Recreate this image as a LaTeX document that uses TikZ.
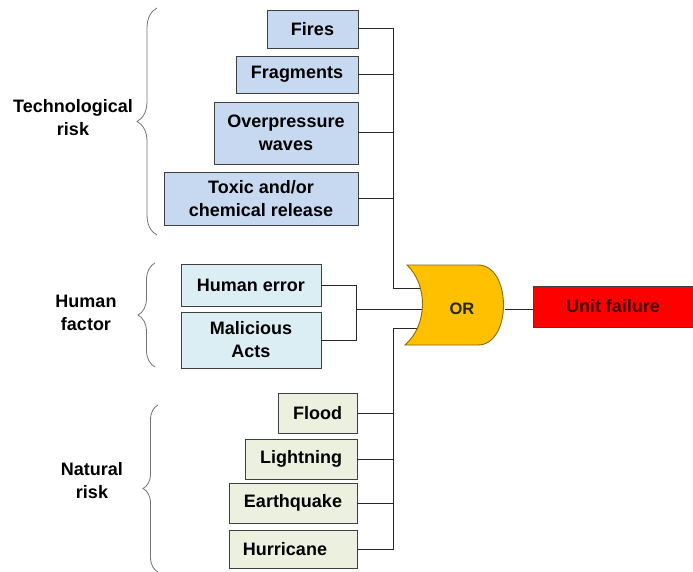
\documentclass[tikz,border=0pt]{standalone}
\usepackage{fontspec}
\setmainfont{Liberation Sans}
\usetikzlibrary{decorations.pathreplacing}
\definecolor{techblue}{HTML}{C6D9F1}
\definecolor{humblue}{HTML}{DBEEF4}
\definecolor{natgreen}{HTML}{EBF1DE}
\definecolor{gateor}{HTML}{FFC000}
\definecolor{gateedge}{HTML}{8C6A00}
\definecolor{boxedge}{HTML}{404040}
\definecolor{ufred}{HTML}{FF0000}
\definecolor{uftext}{HTML}{420000}
\begin{document}
\begin{tikzpicture}[x=1pt,y=-1pt,
  txt/.style={font=\fontsize{18}{23}\selectfont\bfseries, align=center},
  box/.style={txt, draw=boxedge, line width=0.8pt, inner sep=0pt},
  tech/.style={box, fill=techblue},
  hum/.style={box, fill=humblue},
  nat/.style={box, fill=natgreen},
  wire/.style={draw=black!85, line width=1pt},
  brc/.style={draw=black!55, line width=0.8pt, decorate, decoration={brace, amplitude=#1}},
  grp/.style={txt}
]
\useasboundingbox (0,0) rectangle (693,572);

% technological boxes
\node[tech, minimum width=91pt, minimum height=38pt] (fires) at (312.5,29) {Fires};
\node[tech, minimum width=122pt, minimum height=37pt] (frag) at (297,74.5) {Fragments};
\node[tech, minimum width=144pt, minimum height=62pt] (over) at (286,133) {Overpressure\\waves};
\node[tech, minimum width=194pt, minimum height=53pt] (toxic) at (261,198.5) {Toxic and/or\\chemical release};

% human boxes
\node[hum, minimum width=140pt, minimum height=42pt] (herr) at (251,285) {Human error};
\node[hum, minimum width=140pt, minimum height=56pt] (mal) at (251,340) {Malicious\\Acts};

% natural boxes
\node[nat, minimum width=79pt, minimum height=40pt] (flood) at (317.5,413) {Flood};
\node[nat, minimum width=112pt, minimum height=40pt] (light) at (301,459) {Lightning};
\node[nat, minimum width=128pt, minimum height=40pt] (earth) at (293,503) {Earthquake};
\node[nat, minimum width=128pt, minimum height=38pt] (hurr) at (293,549) {Hurricane\hspace*{16pt}};

% unit failure
\node[box, fill=ufred, text=uftext, minimum width=160pt, minimum height=41pt] (uf) at (613,306.5) {Unit failure};

% bus coordinates
\coordinate (tbus) at (393,288);
\coordinate (nbus) at (393,328);
\coordinate (hbus) at (356,309);
\coordinate (gin1) at (430,288);
\coordinate (gin2) at (430,309);
\coordinate (gin3) at (430,328);
\coordinate (gout) at (505,309);

% technological wiring
\draw[wire] (fires.east) -- (fires.east -| tbus) -- (tbus) -- (gin1);
\draw[wire] (frag.east) -- (frag.east -| tbus);
\draw[wire] (over.east) -- (over.east -| tbus);
\draw[wire] (toxic.east) -- (toxic.east -| tbus);

% human wiring
\draw[wire] (herr.east) -- (herr.east -| hbus) -- (mal.east -| hbus) -- (mal.east);
\draw[wire] (hbus) -- (gin2);

% natural wiring
\draw[wire] (gin3) -- (nbus) -- (nbus |- hurr.east) -- (hurr.east);
\draw[wire] (flood.east) -- (flood.east -| nbus);
\draw[wire] (light.east) -- (light.east -| nbus);
\draw[wire] (earth.east) -- (earth.east -| nbus);

% gate
\draw[fill=gateor, draw=gateedge, line width=0.9pt]
  (407,265) -- (478,265) .. controls (512,265) and (512,345) .. (478,345)
  -- (405,345) .. controls (428,325) and (428,285) .. (407,265) -- cycle;
\node[txt, font=\fontsize{16.5}{20}\selectfont\bfseries, text=black!85] (gate) at (462,309) {OR};

% output
\draw[wire] (gout) -- (gout -| uf.west);

% braces
\draw[brc=20pt] (157,235) -- (157,8);
\draw[brc=17pt] (155,367) -- (155,263);
\draw[brc=15pt] (158,572) -- (158,405);

% group labels
\node[grp] (ltech) at (73,118) {Technological\\risk};
\node[grp] (lhum) at (86,313) {Human\\factor};
\node[grp] (lnat) at (92,481) {Natural\\risk};
\end{tikzpicture}
\end{document}
